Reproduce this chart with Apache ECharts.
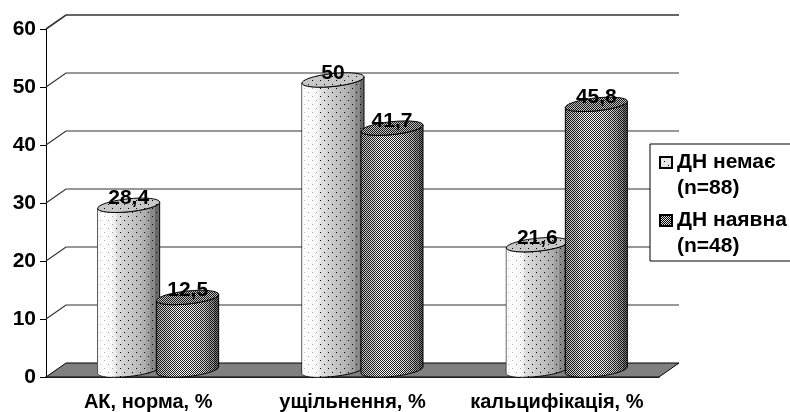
<!DOCTYPE html>
<html>
<head>
<meta charset="utf-8">
<style>html,body{margin:0;padding:0;background:#fff;overflow:hidden}#chart{width:790px;height:412px}</style>
<script src="https://cdn.jsdelivr.net/npm/echarts@6/dist/echarts.min.js"></script>
</head>
<body>
<div id="chart"></div>
<script>
// Categories, series values and axis ticks
const categories = ['АК, норма, %', 'ущільнення, %', 'кальцифікація, %'];
const noFailure = [28.4, 50, 21.6];
const withFailure = [12.5, 41.7, 45.8];
const noFailureName = 'ДН немає\n(n=88)';
const withFailureName = 'ДН наявна\n(n=48)';
const valueTicks = [0, 10, 20, 30, 40, 50, 60];

// Oblique depth of the plot box, in pixels
const DEPTH_X = 20, DEPTH_Y = 14;
const FONT = '"Liberation Sans", Arial, sans-serif';

// Small repeating fills: sparse dots and a one-pixel checkerboard
function makeTile(w, h, cells, background, ink) {
  const c = document.createElement('canvas');
  c.width = w; c.height = h;
  const g = c.getContext('2d');
  if (background) { g.fillStyle = background; g.fillRect(0, 0, w, h); }
  g.fillStyle = ink || '#000';
  cells.forEach(p => g.fillRect(p[0], p[1], 1, 1));
  return { image: c, repeat: 'repeat' };
}
const dotCells = [[0, 0], [4, 4]];
const checkCells = [[0, 0], [1, 1]];
const dots = makeTile(8, 8, dotCells);
const checker = makeTile(2, 2, checkCells, null, 'rgba(0,0,0,0.88)');
const legendDots = makeTile(8, 8, dotCells, '#e8e8e8');
const legendChecker = makeTile(2, 2, checkCells, '#e0e0e0');

// Stepped horizontal shading across a cylinder
function bands(colors) {
  const stops = [];
  colors.forEach((col, i) => {
    stops.push({ offset: i / colors.length, color: col });
    stops.push({ offset: (i + 1) / colors.length, color: col });
  });
  return { type: 'linear', x: 0, y: 0, x2: 1, y2: 0, colorStops: stops };
}
const lightBands = bands(['#f4f4f4', '#ffffff', '#f0f0f0', '#e6e6e6', '#dcdcdc', '#d2d2d2', '#cacaca', '#c2c2c2', '#bababa', '#b0b0b0', '#a0a0a0', '#888888', '#686868']);
const darkBands = bands(['#b8b8b8', '#c8c8c8', '#d8d8d8', '#f0f0f0', '#ffffff', '#ffffff', '#fcfcfc', '#f4f4f4', '#e8e8e8', '#d8d8d8', '#c0c0c0', '#a0a0a0', '#787878']);
// Softens the dots on the lit side of the pale cylinders
const dotFade = { type: 'linear', x: 0, y: 0, x2: 1, y2: 0, colorStops: [
  { offset: 0, color: 'rgba(255,255,255,0.75)' },
  { offset: 0.25, color: 'rgba(255,255,255,0.6)' },
  { offset: 0.3, color: 'rgba(255,255,255,0)' },
  { offset: 1, color: 'rgba(255,255,255,0)' }
] };

// One oblique cylinder with its value label on the lid
function cylinder(values, side, shade, overlay, lidColor, fade) {
  return function (params, api) {
    const i = api.value(0), v = api.value(1);
    const band = api.size([1, 0])[0];
    const half = band * 0.1517;
    const cx = api.coord([i, 0])[0] + DEPTH_X / 2 + side * band * 0.1444;
    const baseY = api.coord([i, 0])[1] - DEPTH_Y / 2;
    const topY = api.coord([i, v])[1] - DEPTH_Y / 2;
    const b = 6.5, tilt = -0.1;
    const arc = (cy, from, to) => {
      const pts = [];
      for (let k = 0; k <= 40; k++) {
        const t = from + (to - from) * k / 40;
        const dx = half * Math.cos(t);
        pts.push([cx + dx, cy + b * Math.sin(t) + tilt * dx]);
      }
      return pts;
    };
    const bodyPts = arc(baseY, Math.PI, 0).concat(arc(topY, 0, Math.PI));
    const lidPts = arc(topY, 0, Math.PI * 2);
    const line = { stroke: '#000', lineWidth: 1 };
    const children = [
      { type: 'polygon', shape: { points: bodyPts }, style: { fill: shade, stroke: '#000', lineWidth: 1 } },
      { type: 'polygon', shape: { points: bodyPts }, style: { fill: overlay } }
    ];
    if (fade) {
      children.push({ type: 'polygon', shape: { points: bodyPts }, style: { fill: fade } });
    }
    children.push(
      { type: 'polygon', shape: { points: lidPts }, style: { fill: lidColor } },
      { type: 'polygon', shape: { points: lidPts }, style: Object.assign({ fill: overlay }, line) },
      { type: 'text', x: cx, y: topY - 7, style: {
          text: String(values[i]).replace('.', ','), textAlign: 'center', textVerticalAlign: 'middle',
          font: 'bold 21px ' + FONT, fill: '#000' } }
    );
    return { type: 'group', children };
  };
}

// Back wall gridlines; the zero tick also draws the floor
function wall(params, api) {
  const v = api.value(1);
  const sys = params.coordSys;
  const y = api.coord([0, v])[1];
  const left = sys.x, right = sys.x + sys.width;
  const children = [];
  if (v === 0) {
    children.push({ type: 'polygon',
      shape: { points: [[left, y], [left + DEPTH_X, y - DEPTH_Y], [right + DEPTH_X, y - DEPTH_Y], [right, y]] },
      style: { fill: '#808080', stroke: '#000', lineWidth: 1 } });
  } else {
    children.push({ type: 'polyline',
      shape: { points: [[left, y], [left + DEPTH_X, y - DEPTH_Y], [right + DEPTH_X, y - DEPTH_Y]] },
      style: { fill: 'none', stroke: '#333', lineWidth: v === 60 ? 1.6 : 1.2 } });
  }
  return { type: 'group', children };
}

const chart = echarts.init(document.getElementById('chart'), null, { renderer: 'canvas' });
chart.setOption({
  animation: false,
  backgroundColor: '#fff',
  grid: { left: 46, right: 131, top: 29, bottom: 35 },
  xAxis: {
    type: 'category', data: categories,
    axisLine: { lineStyle: { color: '#000', width: 1.5 } },
    axisTick: { length: 5, lineStyle: { color: '#000', width: 1 } },
    axisLabel: { color: '#000', fontFamily: FONT, fontWeight: 'bold', fontSize: 20, margin: 15, interval: 0 }
  },
  yAxis: {
    type: 'value', min: 0, max: 60, interval: 10,
    splitLine: { show: false },
    axisLine: { show: true, lineStyle: { color: '#000', width: 1 } },
    axisTick: { show: true, length: 6, lineStyle: { color: '#000', width: 1 } },
    axisLabel: { color: '#000', fontFamily: FONT, fontWeight: 'bold', fontSize: 21, margin: 10 }
  },
  legend: {
    data: [noFailureName, withFailureName],
    orient: 'vertical', left: 650, top: 144,
    padding: [4, 24, 1, 9], itemGap: 4, itemWidth: 12, itemHeight: 52,
    // the swatch sits level with the first line of its two-line name
    icon: 'path://M0,0L0,0M0,8H12V19H0ZM0,52L0,52',
    backgroundColor: '#fff', borderColor: '#000', borderWidth: 1, borderRadius: 0,
    selectedMode: false,
    textStyle: { color: '#000', fontFamily: FONT, fontWeight: 'bold', fontSize: 21, lineHeight: 26, padding: [0, 0, 0, 0] }
  },
  series: [
    { type: 'custom', name: 'grid', silent: true, data: valueTicks.map(v => [0, v]), renderItem: wall, encode: { x: 0, y: 1 } },
    { type: 'custom', name: noFailureName, silent: true, itemStyle: { color: legendDots, borderColor: '#000', borderWidth: 1 },
      data: noFailure.map((v, i) => [i, v]), encode: { x: 0, y: 1 },
      renderItem: cylinder(noFailure, -1, lightBands, dots, '#c8c8c8', dotFade) },
    { type: 'custom', name: withFailureName, silent: true, itemStyle: { color: legendChecker, borderColor: '#000', borderWidth: 1 },
      data: withFailure.map((v, i) => [i, v]), encode: { x: 0, y: 1 },
      renderItem: cylinder(withFailure, 1, darkBands, checker, '#c0c0c0') }
  ]
});
</script>
</body>
</html>
